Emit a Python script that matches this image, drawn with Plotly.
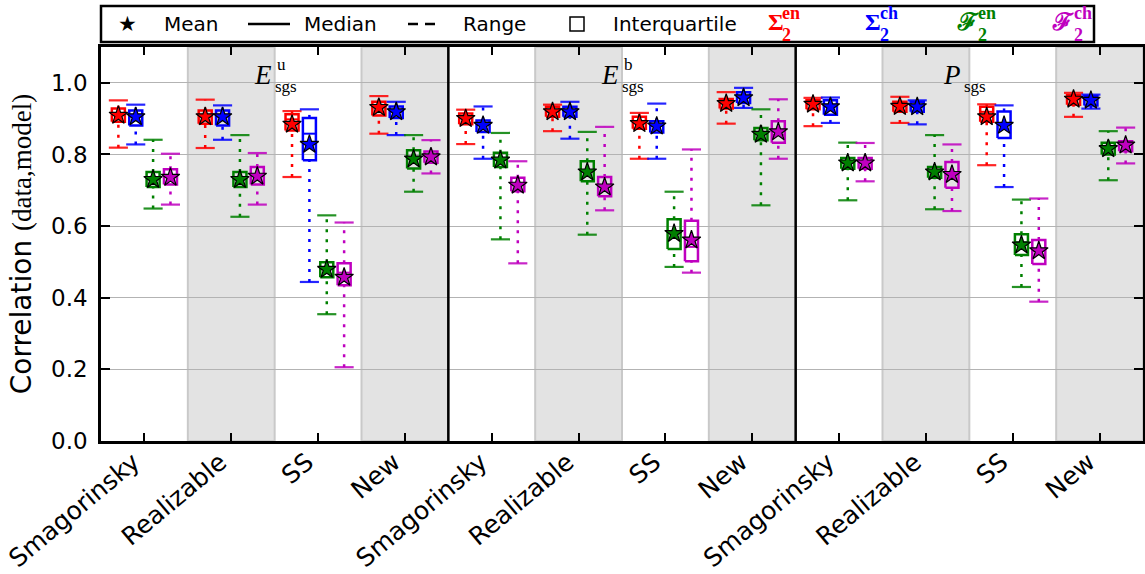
import numpy as np
import plotly.graph_objects as go

# ---------------- data ----------------
CATEGORIES = ["Smagorinsky", "Realizable", "SS", "New"]
PANEL_MAIN = ["E", "E", "P"]
PANEL_SUP = ["u", "b", ""]
TICK_LABELS = CATEGORIES * 3
SERIES_COLORS = ["#ff0000", "#0000ff", "#008000", "#bf00bf"]

# order of 12 values: E_u (Smag, Real, SS, New), E_b (...), P (...)
# Sigma_2^en (red)
sig_en_mean = [0.909, 0.905, 0.884, 0.931, 0.900, 0.919, 0.886, 0.942, 0.940, 0.934, 0.905, 0.954]
sig_en_med = [0.910, 0.906, 0.898, 0.933, 0.902, 0.920, 0.888, 0.944, 0.942, 0.936, 0.919, 0.955]
sig_en_q1 = [0.891, 0.886, 0.867, 0.909, 0.884, 0.905, 0.872, 0.928, 0.926, 0.919, 0.891, 0.939]
sig_en_q3 = [0.928, 0.923, 0.912, 0.947, 0.914, 0.933, 0.905, 0.955, 0.951, 0.947, 0.933, 0.965]
sig_en_lo = [0.819, 0.818, 0.737, 0.858, 0.829, 0.865, 0.788, 0.886, 0.879, 0.888, 0.770, 0.905]
sig_en_hi = [0.951, 0.953, 0.921, 0.963, 0.925, 0.939, 0.916, 0.974, 0.958, 0.961, 0.940, 0.972]

# Sigma_2^ch (blue)
sig_ch_mean = [0.905, 0.905, 0.828, 0.919, 0.881, 0.919, 0.879, 0.958, 0.933, 0.933, 0.881, 0.951]
sig_ch_med = [0.906, 0.906, 0.858, 0.920, 0.882, 0.920, 0.880, 0.959, 0.935, 0.934, 0.885, 0.952]
sig_ch_q1 = [0.881, 0.881, 0.784, 0.902, 0.863, 0.905, 0.861, 0.944, 0.911, 0.919, 0.846, 0.937]
sig_ch_q3 = [0.923, 0.923, 0.902, 0.934, 0.895, 0.933, 0.893, 0.974, 0.951, 0.947, 0.920, 0.963]
sig_ch_lo = [0.828, 0.841, 0.444, 0.854, 0.788, 0.844, 0.788, 0.930, 0.888, 0.884, 0.709, 0.928]
sig_ch_hi = [0.939, 0.937, 0.926, 0.947, 0.934, 0.947, 0.942, 0.986, 0.959, 0.951, 0.937, 0.967]

# F_2^en (green)
f_en_mean = [0.730, 0.730, 0.479, 0.787, 0.784, 0.751, 0.579, 0.856, 0.776, 0.751, 0.547, 0.816]
f_en_med = [0.731, 0.731, 0.480, 0.788, 0.785, 0.755, 0.585, 0.857, 0.777, 0.752, 0.555, 0.817]
f_en_q1 = [0.709, 0.709, 0.457, 0.761, 0.765, 0.725, 0.536, 0.840, 0.760, 0.735, 0.519, 0.800]
f_en_q3 = [0.751, 0.751, 0.499, 0.812, 0.805, 0.781, 0.619, 0.874, 0.790, 0.765, 0.577, 0.833]
f_en_lo = [0.649, 0.626, 0.354, 0.696, 0.563, 0.576, 0.486, 0.658, 0.672, 0.647, 0.430, 0.728]
f_en_hi = [0.841, 0.854, 0.630, 0.854, 0.860, 0.863, 0.696, 0.926, 0.833, 0.854, 0.674, 0.865]

# F_2^ch (magenta)
f_ch_mean = [0.736, 0.739, 0.457, 0.793, 0.714, 0.709, 0.561, 0.863, 0.776, 0.744, 0.531, 0.826]
f_ch_med = [0.737, 0.740, 0.470, 0.794, 0.715, 0.710, 0.542, 0.855, 0.777, 0.745, 0.531, 0.827]
f_ch_q1 = [0.716, 0.716, 0.435, 0.777, 0.697, 0.683, 0.502, 0.833, 0.760, 0.707, 0.494, 0.809]
f_ch_q3 = [0.759, 0.765, 0.496, 0.808, 0.735, 0.737, 0.615, 0.893, 0.790, 0.779, 0.561, 0.837]
f_ch_lo = [0.660, 0.660, 0.206, 0.747, 0.496, 0.644, 0.470, 0.788, 0.725, 0.642, 0.389, 0.775]
f_ch_hi = [0.802, 0.804, 0.610, 0.840, 0.781, 0.877, 0.814, 0.954, 0.832, 0.828, 0.677, 0.875]

SERIES = [
    (sig_en_mean, sig_en_med, sig_en_q1, sig_en_q3, sig_en_lo, sig_en_hi),
    (sig_ch_mean, sig_ch_med, sig_ch_q1, sig_ch_q3, sig_ch_lo, sig_ch_hi),
    (f_en_mean, f_en_med, f_en_q1, f_en_q3, f_en_lo, f_en_hi),
    (f_ch_mean, f_ch_med, f_ch_q1, f_ch_q3, f_ch_lo, f_ch_hi),
]
OFFSETS = [-0.3, -0.1, 0.1, 0.3]

# ---------------- figure ----------------
W, H = 1145, 574
ML, MR, MT, MB = 101, 2, 47, 133
PW, PH = W - ML - MR, H - MT - MB


def pxx(x):
    return (x - ML) / PW


def pxy(y):
    return (H - MB - y) / PH


fig = go.Figure()
centers = np.arange(len(TICK_LABELS))
BOX_HW, CAP_HW = 0.075, 0.11

for (mean, med, q1, q3, lo, hi), off, col in zip(SERIES, OFFSETS, SERIES_COLORS):
    xs = centers + off
    wx, wy, cx, cy, bx, by, mx, my = [], [], [], [], [], [], [], []
    for x, a, m, b1, b3, l, h in zip(xs, mean, med, q1, q3, lo, hi):
        wx += [x, x, None, x, x, None]
        wy += [l, b1, None, b3, h, None]
        cx += [x - CAP_HW, x + CAP_HW, None, x - CAP_HW, x + CAP_HW, None]
        cy += [l, l, None, h, h, None]
        bx += [x - BOX_HW, x + BOX_HW, x + BOX_HW, x - BOX_HW, x - BOX_HW, None]
        by += [b1, b1, b3, b3, b1, None]
        mx += [x - BOX_HW, x + BOX_HW, None]
        my += [m, m, None]
    fig.add_trace(go.Scatter(x=wx, y=wy, mode="lines",
                             line=dict(color=col, width=2.5, dash="3px,7px"),
                             hoverinfo="skip"))
    fig.add_trace(go.Scatter(x=cx, y=cy, mode="lines",
                             line=dict(color=col, width=2.2), opacity=0.85,
                             hoverinfo="skip"))
    fig.add_trace(go.Scatter(x=bx, y=by, mode="lines",
                             line=dict(color=col, width=2.5), hoverinfo="skip"))
    fig.add_trace(go.Scatter(x=mx, y=my, mode="lines",
                             line=dict(color=col, width=2), hoverinfo="skip"))
    fig.add_trace(go.Scatter(x=xs, y=mean, mode="markers",
                             marker=dict(symbol="star", size=14, color=col,
                                         line=dict(color="black", width=1.2)),
                             hoverinfo="skip"))

shapes = []
# shaded category bands
for p in range(3):
    for k in (1, 3):
        shapes.append(dict(type="rect", xref="x", yref="paper",
                           x0=4 * p + k - 0.5, x1=4 * p + k + 0.5, y0=0, y1=1,
                           fillcolor="#e3e3e3", line=dict(color="#c9c9c9", width=2),
                           layer="below"))
# panel separators
for xs_ in (3.5, 7.5):
    shapes.append(dict(type="line", xref="x", yref="paper", x0=xs_, x1=xs_, y0=0, y1=1,
                       line=dict(color="black", width=2.5), layer="above"))

# legend box
shapes.append(dict(type="rect", xref="paper", yref="paper",
                   x0=pxx(101), x1=pxx(1094), y0=pxy(42), y1=pxy(6),
                   line=dict(color="black", width=2.5), fillcolor="white"))
LY = 24
shapes.append(dict(type="line", xref="paper", yref="paper",
                   x0=pxx(248), x1=pxx(290), y0=pxy(LY), y1=pxy(LY),
                   line=dict(color="black", width=2.5)))
for a, b in ((408, 418), (425, 435)):
    shapes.append(dict(type="line", xref="paper", yref="paper",
                       x0=pxx(a), x1=pxx(b), y0=pxy(LY), y1=pxy(LY),
                       line=dict(color="black", width=2.5)))
shapes.append(dict(type="rect", xref="paper", yref="paper",
                   x0=pxx(570), x1=pxx(584), y0=pxy(LY + 7), y1=pxy(LY - 7),
                   line=dict(color="black", width=1.5)))

annotations = []
LEG_FONT = dict(family="DejaVu Sans", size=20, color="black")
annotations.append(dict(xref="paper", yref="paper", x=pxx(127), y=pxy(LY), text="★",
                        showarrow=False, xanchor="center", yanchor="middle",
                        font=dict(family="DejaVu Sans", size=21, color="black")))
for xpos, txt in ((162, "Mean"), (302, "Median"), (461, "Range"), (611, "Interquartile")):
    annotations.append(dict(xref="paper", yref="paper", x=pxx(xpos), y=pxy(LY), text=txt,
                            showarrow=False, xanchor="left", yanchor="middle", font=LEG_FONT))

# series labels in legend (glyph, superscript and subscript set apart)
LAB = [("Σ", "en", 768, 781, "Liberation Serif"), ("Σ", "ch", 865, 879, "Liberation Serif"),
       ("ℱ", "en", 957, 977, "DejaVu Serif"), ("ℱ", "ch", 1052, 1073, "DejaVu Serif")]
for (g, sup, x0, x1, fam), col in zip(LAB, SERIES_COLORS):
    annotations.append(dict(xref="paper", yref="paper", x=pxx(x0 - 1), y=pxy(22), text="<b>%s</b>" % g,
                            showarrow=False, xanchor="left", yanchor="middle", borderpad=0,
                            font=dict(family=fam, size=24, color=col)))
    annotations.append(dict(xref="paper", yref="paper", x=pxx(x1), y=pxy(24), text="<b>%s</b>" % sup,
                            showarrow=False, xanchor="left", yanchor="bottom", borderpad=0,
                            font=dict(family="Liberation Serif", size=18, color=col)))
    annotations.append(dict(xref="paper", yref="paper", x=pxx(x1), y=pxy(24), text="<b>2</b>",
                            showarrow=False, xanchor="left", yanchor="top", borderpad=0,
                            font=dict(family="Liberation Serif", size=18, color=col)))

# panel titles
for p, (m, sup) in enumerate(zip(PANEL_MAIN, PANEL_SUP)):
    cxp = 4 * p + 1.5
    annotations.append(dict(xref="x", yref="paper", x=cxp, y=pxy(75), text="<i>%s</i>" % m,
                            showarrow=False, xanchor="right", yanchor="middle",
                            xshift=-2 if m == "E" else -7,
                            borderpad=0,
                            font=dict(family="Liberation Serif", size=27, color="black")))
    if sup:
        annotations.append(dict(xref="x", yref="paper", x=cxp, y=pxy(75), text=sup,
                                showarrow=False, xanchor="left", yanchor="bottom", xshift=1,
                                borderpad=0,
                                font=dict(family="Liberation Serif", size=17, color="black")))
    annotations.append(dict(xref="x", yref="paper", x=cxp, y=pxy(76), text="sgs",
                            showarrow=False, xanchor="left", yanchor="top",
                            xshift=-1 if m == "E" else -6, borderpad=0,
                            font=dict(family="Liberation Serif", size=17, color="black")))

fig.update_layout(
    width=W, height=H,
    margin=dict(l=ML, r=MR, t=MT, b=MB, pad=0, autoexpand=False),
    paper_bgcolor="white", plot_bgcolor="white",
    showlegend=False, hovermode=False,
    shapes=shapes, annotations=annotations,
    font=dict(family="DejaVu Sans", color="black"),
)
fig.update_xaxes(
    range=[-0.5, len(TICK_LABELS) - 0.5], automargin=False,
    tickmode="array", tickvals=centers, ticktext=TICK_LABELS,
    tickangle=-40, tickfont=dict(family="DejaVu Sans", size=25),
    ticklabelshift=-11, ticklabelstandoff=-6,
    ticks="inside", ticklen=8, tickwidth=1.5, tickcolor="black",
    showline=True, linecolor="black", linewidth=2.5, mirror="ticks",
    showgrid=False, zeroline=False,
)
fig.update_yaxes(
    range=[0, 1.1], automargin=False,
    tickmode="array", tickvals=[0, 0.2, 0.4, 0.6, 0.8, 1.0],
    ticktext=["0.0", "0.2", "0.4", "0.6", "0.8", "1.0"],
    tickfont=dict(family="DejaVu Sans", size=23),
    ticks="inside", ticklen=9, tickwidth=1.5, tickcolor="black",
    showline=True, linecolor="black", linewidth=2.5, mirror="ticks",
    showgrid=True, gridcolor="#b3b3b3", gridwidth=1.3, zeroline=False,
    ticklabelstandoff=6,
    title=dict(text="Correlation <span style=\"font-family:'Liberation Serif';font-size:27px\">(data,model)</span>",
               font=dict(family="DejaVu Sans", size=28), standoff=12),
)

fig.write_html("out.html")
